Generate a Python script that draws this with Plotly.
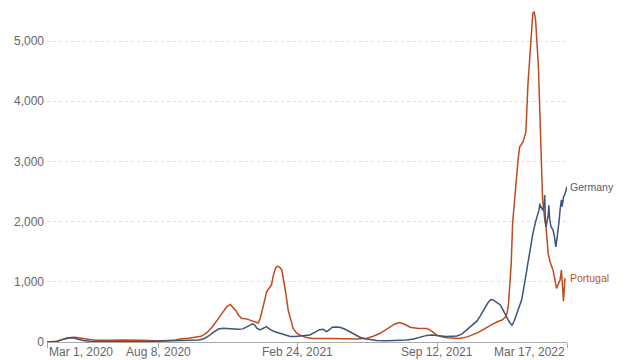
import plotly.graph_objects as go

# ---- data: 7-day avg new cases per million ----
germany_dates = [
    "2020-03-01","2020-03-08","2020-03-15","2020-03-22","2020-03-29","2020-04-03","2020-04-08","2020-04-15",
    "2020-04-22","2020-05-01","2020-05-15","2020-06-01","2020-06-20","2020-07-10","2020-07-25","2020-08-10",
    "2020-08-25","2020-09-10","2020-09-25","2020-10-05","2020-10-12","2020-10-19","2020-10-26","2020-11-02",
    "2020-11-09","2020-11-16","2020-11-23","2020-11-30","2020-12-07","2020-12-13","2020-12-18","2020-12-21",
    "2020-12-24","2020-12-27","2020-12-31","2021-01-03","2021-01-07","2021-01-10","2021-01-13","2021-01-16",
    "2021-01-22","2021-01-29","2021-02-05","2021-02-13","2021-02-20","2021-02-27","2021-03-06","2021-03-13",
    "2021-03-20","2021-03-27","2021-04-01","2021-04-06","2021-04-10","2021-04-14","2021-04-20","2021-04-25",
    "2021-05-02","2021-05-10","2021-05-17","2021-05-24","2021-05-31","2021-06-08","2021-06-17","2021-07-01",
    "2021-07-15","2021-07-30","2021-08-09","2021-08-18","2021-08-28","2021-09-04","2021-09-11","2021-09-18",
    "2021-09-25","2021-10-03","2021-10-10","2021-10-17","2021-10-24","2021-11-02","2021-11-08","2021-11-12",
    "2021-11-19","2021-11-24","2021-11-28","2021-12-01","2021-12-04","2021-12-08","2021-12-11","2021-12-14",
    "2021-12-18","2021-12-22","2021-12-25","2021-12-28","2021-12-31","2022-01-04","2022-01-08","2022-01-11",
    "2022-01-14","2022-01-18","2022-01-22","2022-01-27","2022-01-31","2022-02-03","2022-02-05","2022-02-06",
    "2022-02-07","2022-02-08","2022-02-10","2022-02-12","2022-02-13","2022-02-14","2022-02-15","2022-02-17",
    "2022-02-18","2022-02-19","2022-02-20","2022-02-22","2022-02-25","2022-02-27","2022-03-01","2022-03-03",
    "2022-03-04","2022-03-06","2022-03-07","2022-03-09","2022-03-10","2022-03-12","2022-03-14","2022-03-17",
]
germany_values = [
    0, 2, 10, 35, 62, 72, 66, 45,
    25, 14, 9, 5, 6, 5, 8, 13,
    15, 17, 22, 33, 55, 100, 165, 215,
    230, 220, 215, 212, 218, 250, 285, 300,
    280, 228, 205, 212, 240, 255, 225, 200,
    170, 145, 115, 90, 92, 100, 105, 118,
    160, 205, 210, 172, 200, 245, 250, 245,
    215, 170, 120, 80, 55, 40, 27, 20,
    22, 33, 50, 78, 110, 118, 115, 100,
    90, 90, 100, 130, 200, 285, 350, 420,
    560, 660, 705, 700, 675, 650, 620, 560,
    460, 380, 320, 280, 340, 470, 580, 700,
    900, 1190, 1450, 1800, 2000, 2130, 2200, 2300,
    2230, 2250, 2190, 2250, 2440, 2000, 1915, 2050,
    2110, 2270, 2050, 1915, 1860, 1750, 1580, 1750,
    1830, 2050, 2190, 2360, 2250, 2410, 2460, 2580,
]

portugal_dates = [
    "2020-03-01","2020-03-08","2020-03-15","2020-03-22","2020-03-29","2020-04-05","2020-04-10","2020-04-15",
    "2020-04-22","2020-05-01","2020-05-10","2020-05-20","2020-06-01","2020-06-15","2020-07-01","2020-07-15",
    "2020-08-01","2020-08-15","2020-09-01","2020-09-10","2020-09-20","2020-10-01","2020-10-08","2020-10-16",
    "2020-10-24","2020-10-31","2020-11-05","2020-11-09","2020-11-14","2020-11-19","2020-11-23","2020-11-27",
    "2020-12-01","2020-12-05","2020-12-13","2020-12-20","2020-12-25","2020-12-29","2021-01-01","2021-01-04",
    "2021-01-07","2021-01-10","2021-01-14","2021-01-17","2021-01-20","2021-01-23","2021-01-26","2021-01-29",
    "2021-02-01","2021-02-04","2021-02-07","2021-02-10","2021-02-14","2021-02-17","2021-02-22","2021-02-27",
    "2021-03-07","2021-03-17","2021-04-11","2021-05-05","2021-05-20","2021-06-03","2021-06-12","2021-06-22",
    "2021-06-29","2021-07-06","2021-07-13","2021-07-20","2021-07-27","2021-08-04","2021-08-14","2021-08-28",
    "2021-09-04","2021-09-11","2021-09-18","2021-09-26","2021-10-14","2021-10-25","2021-11-01","2021-11-09",
    "2021-11-16","2021-11-23","2021-12-01","2021-12-08","2021-12-14","2021-12-19","2021-12-21","2021-12-23",
    "2021-12-24","2021-12-26","2021-12-27","2021-12-29","2021-12-31","2022-01-03","2022-01-06","2022-01-08",
    "2022-01-13","2022-01-16","2022-01-17","2022-01-20","2022-01-24","2022-01-27","2022-01-29","2022-01-31",
    "2022-02-04","2022-02-07","2022-02-10","2022-02-13","2022-02-15","2022-02-18","2022-02-21","2022-02-25",
    "2022-02-28","2022-03-02","2022-03-04","2022-03-07","2022-03-09","2022-03-10","2022-03-12","2022-03-14",
]
portugal_values = [
    0, 1, 12, 40, 68, 75, 80, 70,
    55, 40, 30, 25, 30, 33, 35, 30,
    22, 22, 35, 55, 63, 75, 95, 150,
    250, 360, 450, 520, 590, 625, 580, 520,
    440, 395, 380, 355, 335, 315, 400, 520,
    680, 835, 900, 950, 1120, 1230, 1260, 1240,
    1190, 1000, 780, 530, 330, 230, 150, 115,
    80, 60, 58, 45, 48, 62, 95, 145,
    200, 255, 300, 325, 295, 245, 230, 225,
    180, 115, 85, 70, 60, 85, 115, 155,
    200, 250, 300, 340, 365, 420, 480, 620,
    780, 1100, 1310, 1975, 2300, 2650, 3050, 3240,
    3325, 3450, 3490, 4290, 5010, 5465, 5480, 5345,
    4570, 3470, 2360, 2050, 1900, 1470, 1320, 1195,
    1000, 890, 950, 1030, 1195, 1050, 680, 1060,
]

tick_dates = ["2020-03-01", "2020-08-08", "2021-02-24", "2021-09-12", "2022-03-17"]
tick_labels = ["Mar 1, 2020", "Aug 8, 2020", "Feb 24, 2021", "Sep 12, 2021", "Mar 17, 2022"]
y_ticks = [0, 1000, 2000, 3000, 4000, 5000]

GER_COLOR = "#3E5478"
POR_COLOR = "#C04A1E"
FONT = "Liberation Sans, Arial, sans-serif"

fig = go.Figure()
fig.add_trace(go.Scatter(x=portugal_dates, y=portugal_values, mode="lines",
                         line=dict(color=POR_COLOR, width=1.5), name="Portugal"))
fig.add_trace(go.Scatter(x=germany_dates, y=germany_values, mode="lines",
                         line=dict(color=GER_COLOR, width=1.5), name="Germany"))

# page body has an 8px default margin: size the figure to fit inside the window
fig.update_layout(
    width=632, height=352,
    margin=dict(l=39, r=73, t=3, b=18),
    plot_bgcolor="white", paper_bgcolor="white",
    showlegend=False,
    font=dict(family=FONT, size=12, color="#666"),
)
fig.update_xaxes(
    type="date", range=[tick_dates[0], tick_dates[-1]],
    tickvals=tick_dates, showticklabels=False,
    ticks="outside", ticklen=5, tickcolor="#aaa",
    showline=True, linecolor="#aaa", linewidth=1,
    showgrid=False, zeroline=False,
)
fig.update_yaxes(
    range=[0, 5500], tickvals=y_ticks, tickformat=",",
    showgrid=True, gridcolor="#ddd", griddash="dot", gridwidth=1,
    zeroline=False, showline=False, ticks="",
    tickfont=dict(family=FONT, size=12, color="#666"),
    ticklabelstandoff=2,
)

# x tick labels (first left-aligned, last right-aligned)
for i, (d, lab) in enumerate(zip(tick_dates, tick_labels)):
    anchor = "left" if i == 0 else ("right" if i == len(tick_dates) - 1 else "center")
    fig.add_annotation(x=d, xref="x", y=0, yref="paper", text=lab, showarrow=False,
                       xanchor=anchor, yanchor="top", yshift=-1,
                       font=dict(family=FONT, size=12, color="#666"))

# line end labels
fig.add_annotation(x=1, xref="paper", y=germany_values[-1], yref="y", text="Germany",
                   showarrow=False, xanchor="left", xshift=1,
                   font=dict(family=FONT, size=10.5, color="#4A5E7E"))
fig.add_annotation(x=1, xref="paper", y=portugal_values[-1], yref="y", text="Portugal",
                   showarrow=False, xanchor="left", xshift=1,
                   font=dict(family=FONT, size=10.5, color="#C2532A"))

fig.write_html("out.html")
